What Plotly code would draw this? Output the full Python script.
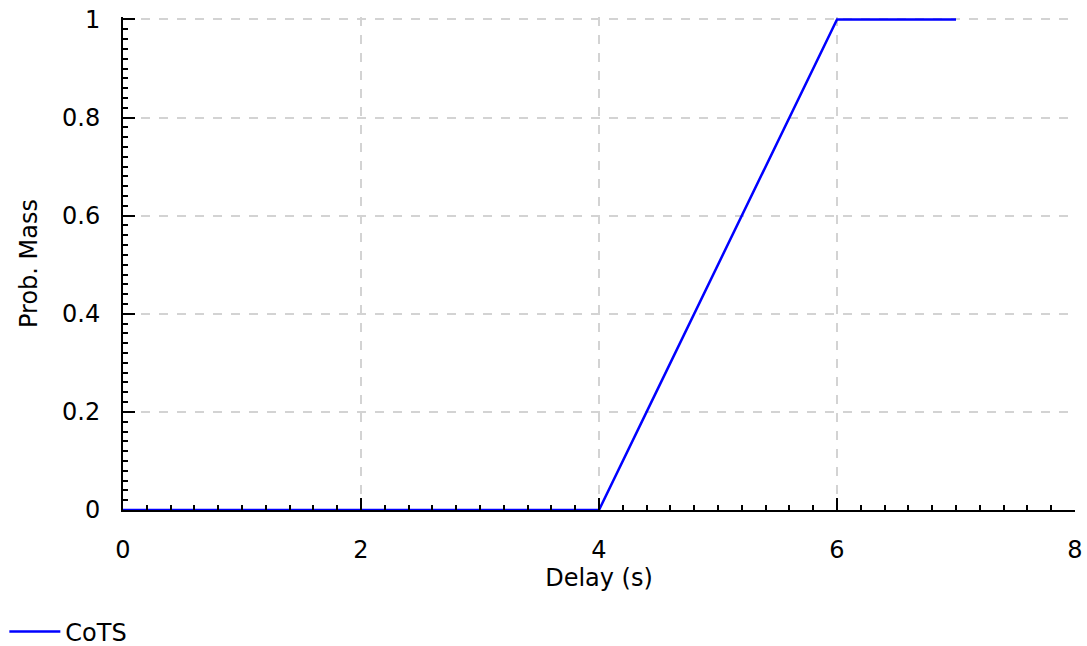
import plotly.graph_objects as go

delay = [0, 4, 4.5, 5, 5.5, 6, 7]
prob_mass = [0, 0, 0.25, 0.5, 0.75, 1, 1]
series_name = "CoTS"

x_ticks = [0, 2, 4, 6, 8]
y_ticks = [0, 0.2, 0.4, 0.6, 0.8, 1]
y_ticktext = ["0", "0.2", "0.4", "0.6", "0.8", "1"]

FS = 24
font = dict(family="DejaVu Sans", size=FS, color="black")

fig = go.Figure()
fig.add_trace(go.Scatter(x=delay, y=prob_mass, mode="lines", name=series_name,
                         line=dict(color="#0000ff", width=2.5)))

fig.update_layout(
    width=1087, height=646,
    margin=dict(l=123, r=12, t=16.5, b=136),
    paper_bgcolor="white", plot_bgcolor="white",
    font=font,
    showlegend=True,
    legend=dict(orientation="h", xref="container", yref="container", x=0.004, y=0.0217,
                xanchor="left", yanchor="middle", font=font, bgcolor="rgba(0,0,0,0)",
                itemwidth=51),
)
common = dict(
    ticks="inside", ticklen=12, tickwidth=2, tickcolor="black",
    showline=True, linecolor="black", linewidth=2,
    showgrid=True, gridcolor="#d3d3d3", griddash="dash", gridwidth=2,
    zeroline=False, automargin=False, tickfont=font, ticklabeloverflow="allow",
)
fig.update_xaxes(
    range=[0, 8], tickvals=x_ticks, ticklabelstandoff=17,
    title=dict(text="Delay (s)", font=font, standoff=4),
    minor=dict(dtick=0.2, ticks="inside", ticklen=5, tickwidth=2, tickcolor="black", showgrid=False),
    **common,
)
fig.update_yaxes(
    range=[0, 1.005], tickvals=y_ticks, ticktext=y_ticktext, ticklabelstandoff=16,
    title=dict(text="Prob. Mass", font=font, standoff=18),
    minor=dict(dtick=0.02, ticks="inside", ticklen=5, tickwidth=2, tickcolor="black", showgrid=False),
    **common,
)
fig.write_html("out.html", config={"displayModeBar": False},
               post_script="document.body.style.margin='0';")
